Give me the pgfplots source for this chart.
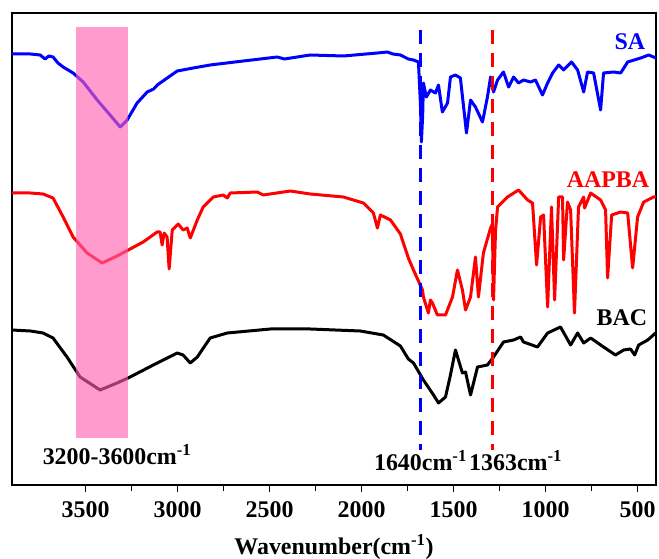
\documentclass[border=0pt]{standalone}
\usepackage{pgfplots}
\pgfplotsset{compat=1.18}
\usepackage{fontspec}
\setmainfont{Liberation Serif}
\definecolor{cPink}{RGB}{255,95,175}
\newcommand{\bigbf}{\bfseries\fontsize{24}{28}\selectfont}

\begin{document}
\begin{tikzpicture}
\begin{axis}[
    scale only axis,
    width=644bp, height=472bp,
    x dir=reverse,
    xmin=400, xmax=3900,
    ymin=0, ymax=472,
    xtick={500,1000,...,3500},
    minor x tick num=1,
    ytick=\empty,
    xtick pos=left,
    tick align=outside,
    major tick length=7bp,
    minor tick length=6bp,
    every tick/.style={black, line width=1.5bp},
    axis line style={line width=1.5bp},
    /pgf/number format/assume math mode=true,
    /pgf/number format/1000 sep={},
    tick label style={font=\bigbf},
    xticklabel style={yshift=-6bp},
    xlabel={Wavenumber(cm\textsuperscript{-1})},
    xlabel style={font=\bigbf, yshift=-10bp},
    clip=false,
]
% SA
\addplot[blue, line width=3bp, line join=round] coordinates {
(3900,431)(3800,431)(3747,430)(3720,426)(3700,429)(3677,428)(3650,422)(3622,418)(3568,412)(3513,403)
(3437,385)(3367,370)(3312,358)(3274,365)(3220,382)(3165,393)(3130,396)(3110,400)
(3095,402)(3002,414)(2915,417)(2823,420)(2643,424)(2458,428)(2420,426)(2279,430)
(2099,429)(1914,432)(1860,433)(1830,431)(1789,430)(1746,426)(1718,425)(1691,423)
(1680,380)(1675,343)(1668,370)(1664,402)(1648,388)(1626,395)(1599,392)(1582,400)
(1561,373)(1533,382)(1517,408)(1490,410)(1463,407)(1430,352)(1408,385)(1381,378)
(1343,363)(1316,388)(1299,408)(1283,393)(1261,405)(1229,413)(1201,398)(1174,408)
(1147,402)(1120,405)(1082,403)(1055,405)(1017,390)(989,402)(962,412)(929,420)
(902,415)(859,423)(826,415)(793,393)(772,413)(739,412)(701,375)(685,412)(630,413)
(592,412)(554,423)(483,427)(440,430)(400,427)
};
% AAPBA
\addplot[red, line width=3bp, line join=round] coordinates {
(3900,292)(3800,292)(3731,291)(3677,287)(3622,268)(3568,248)(3492,232)(3410,222)
(3329,229)(3258,236)(3187,243)(3111,253)(3095,253)(3084,240)(3073,252)(3057,248)
(3046,216)(3029,255)(2997,261)(2970,255)(2948,257)(2931,247)(2893,265)(2861,278)
(2806,288)(2752,290)(2730,287)(2714,292)(2567,293)(2534,290)(2388,294)(2279,291)
(2099,288)(1990,282)(1936,272)(1914,257)(1898,270)(1843,265)(1789,251)(1746,227)
(1718,215)(1669,195)(1664,188)(1637,172)(1626,185)(1615,182)(1588,170)(1544,170)
(1506,188)(1479,215)(1452,195)(1435,175)(1408,188)(1381,228)(1365,188)(1338,232)
(1299,257)(1289,261)(1283,185)(1272,255)(1261,278)(1207,288)(1147,295)(1098,285)
(1071,282)(1049,220)(1027,268)(1011,270)(989,178)(968,278)(951,185)(929,288)
(908,288)(902,225)(881,283)(864,275)(843,172)(821,278)(793,288)(788,277)(755,292)
(701,285)(674,275)(663,207)(641,270)(592,273)(554,272)(527,217)(500,268)(467,283)
(413,288)(400,288)
};
% BAC
\addplot[black, line width=3bp, line join=round] coordinates {
(3900,155)(3800,154)(3731,152)(3677,147)(3601,128)(3530,108)(3421,95)(3329,102)
(3258,108)(3111,122)(3002,132)(2970,130)(2931,122)(2893,128)(2823,147)(2730,152)
(2496,156)(2279,156)(2007,154)(1882,150)(1789,139)(1746,126)(1718,122)(1664,105)
(1609,90)(1582,82)(1544,88)(1517,110)(1490,135)(1452,112)(1435,113)(1408,90)
(1370,118)(1316,120)(1283,128)(1229,143)(1174,145)(1136,148)(1120,143)(1044,138)
(989,152)(919,158)(864,140)(826,152)(793,142)(755,147)(685,138)(620,130)(576,135)
(538,136)(516,130)(494,140)(445,145)(402,152)
};
% highlighted band
\addplot[draw=none, fill=cPink, fill opacity=0.62] coordinates {
(3552,47)(3269,47)(3269,458)(3552,458)} -- cycle;
% marker lines
\addplot[blue, line width=3bp, dash pattern=on 14bp off 9bp] coordinates {(1680,455)(1680,35)};
\addplot[red, line width=3bp, dash pattern=on 14bp off 9bp] coordinates {(1289,455)(1289,35)};

\node[anchor=east, text=blue, font=\bigbf] at (axis cs:440,443) {SA};
\node[anchor=east, text=red, font=\bigbf] at (axis cs:418,305) {AAPBA};
\node[anchor=east, text=black, font=\bigbf] at (axis cs:429,167) {BAC};
\node[font=\bigbf] at (axis cs:3329,30) {3200-3600cm\textsuperscript{-1}};
\node[font=\bigbf] at (axis cs:1680,24) {1640cm\textsuperscript{-1}};
\node[font=\bigbf] at (axis cs:1163,24) {1363cm\textsuperscript{-1}};
\end{axis}
\pgfresetboundingbox
\path ([xshift=-12bp,yshift=-74bp]current axis.south west) rectangle ([xshift=3bp,yshift=13bp]current axis.north east);
\end{tikzpicture}
\end{document}
